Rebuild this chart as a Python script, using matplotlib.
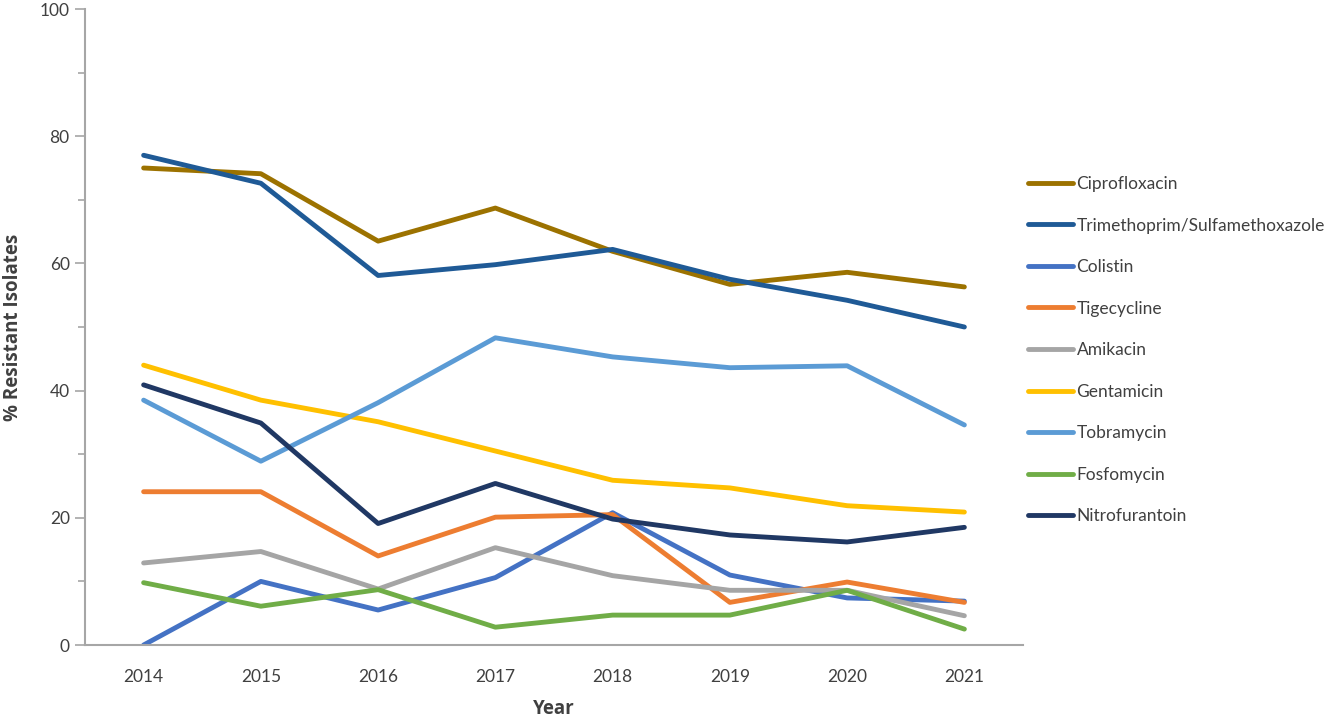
import matplotlib
matplotlib.use("Agg")
import matplotlib.pyplot as plt
from matplotlib.ticker import MultipleLocator

years = [2014, 2015, 2016, 2017, 2018, 2019, 2020, 2021]

# % resistant isolates per antibiotic
ciprofloxacin = [75.0, 74.1, 63.5, 68.7, 61.9, 56.7, 58.6, 56.3]
trimethoprim = [77.0, 72.6, 58.1, 59.8, 62.2, 57.5, 54.2, 50.0]
colistin = [0.0, 10.0, 5.5, 10.6, 20.8, 11.0, 7.4, 6.9]
tigecycline = [24.1, 24.1, 14.0, 20.1, 20.5, 6.7, 9.9, 6.7]
amikacin = [12.9, 14.7, 8.8, 15.3, 10.9, 8.6, 8.6, 4.6]
gentamicin = [44.0, 38.5, 35.1, 30.5, 25.9, 24.7, 21.9, 20.9]
tobramycin = [38.5, 28.9, 38.1, 48.3, 45.3, 43.6, 43.9, 34.6]
fosfomycin = [9.8, 6.1, 8.7, 2.8, 4.7, 4.7, 8.6, 2.5]
nitrofurantoin = [40.9, 34.9, 19.1, 25.4, 19.8, 17.3, 16.2, 18.5]

names = ["Ciprofloxacin", "Trimethoprim/Sulfamethoxazole", "Colistin", "Tigecycline",
         "Amikacin", "Gentamicin", "Tobramycin", "Fosfomycin", "Nitrofurantoin"]
series = [ciprofloxacin, trimethoprim, colistin, tigecycline, amikacin,
          gentamicin, tobramycin, fosfomycin, nitrofurantoin]
colors = ["#9C7200", "#1F5A96", "#4472C4", "#ED7D31", "#A5A5A5",
          "#FFC000", "#5B9BD5", "#70AD47", "#203864"]

plt.rcParams['font.family'] = ['Lato', 'DejaVu Sans']
txt = "#404040"
axcol = "#A6A6A6"

fig = plt.figure(figsize=(13.25, 7.17), dpi=100)
W, H = 1325, 717
ax = fig.add_axes([85 / W, (H - 645) / H, 938 / W, 636 / H])

for name, vals, c in zip(names, series, colors):
    ax.plot(years, vals, color=c, lw=3.5, label=name, solid_capstyle='round')

ax.set_xlim(2013.5, 2021.5)
ax.set_ylim(0, 100)
ax.set_xticks(years)
ax.yaxis.set_major_locator(MultipleLocator(20))
ax.yaxis.set_minor_locator(MultipleLocator(10))
ax.tick_params(axis='x', length=0, pad=17, labelsize=12.5, labelcolor=txt)
ax.tick_params(axis='y', which='major', length=7, width=1.2, color=axcol,
               labelsize=12.5, labelcolor=txt, pad=4)
ax.tick_params(axis='y', which='minor', length=5, width=1.2, color=axcol)

for s in ['top', 'right']:
    ax.spines[s].set_visible(False)
for s in ['left', 'bottom']:
    ax.spines[s].set_color(axcol)
    ax.spines[s].set_linewidth(1.5)

ax.set_ylabel("% Resistant Isolates", fontsize=13.5, fontweight='bold', color=txt,
              family=['Open Sans', 'DejaVu Sans'], labelpad=12)
ax.set_xlabel("Year", fontsize=13.5, fontweight='bold', color=txt,
              family=['Open Sans', 'DejaVu Sans'], labelpad=10)

leg = ax.legend(loc='upper left', bbox_to_anchor=(1028 / W, (H - 176) / H),
                bbox_transform=fig.transFigure, frameon=False, fontsize=12.5,
                handlelength=2.6, handletextpad=0.2, labelspacing=1.47,
                borderaxespad=0, borderpad=0)
for t in leg.get_texts():
    t.set_color(txt)

fig.savefig("out.png", dpi=100)
